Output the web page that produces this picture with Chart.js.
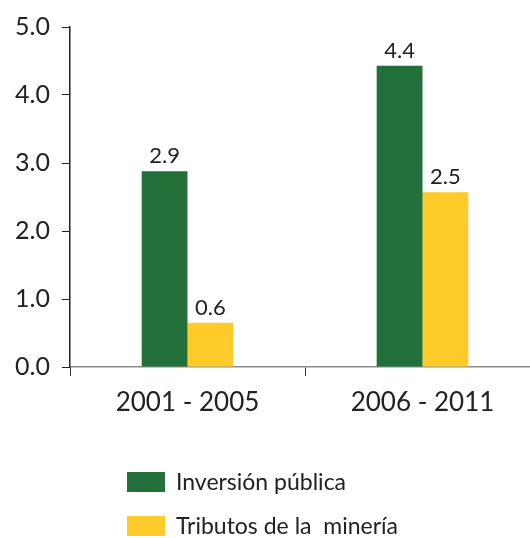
<!DOCTYPE html>
<html>
<head>
<meta charset="utf-8">
<script src="https://cdn.jsdelivr.net/npm/chart.js@4"></script>
<style>
  html, body { margin: 0; padding: 0; background: #fff; overflow: hidden; }
  #wrap { width: 545px; height: 538px; }
</style>
</head>
<body>
<div id="wrap"><canvas id="chart" width="545" height="538"></canvas></div>
<script>
// Chart values (bar heights as drawn, labels as printed)
const periods = ['2001 - 2005', '2006 - 2011'];
const inversionPublica = [2.88, 4.43];
const tributosMineria = [0.65, 2.57];
const inversionLabels = ['2.9', '4.4'];
const tributosLabels = ['0.6', '2.5'];
const seriesNames = ['Inversión pública', 'Tributos de la  minería'];
const seriesColors = ['#23703a', '#ffcb29'];

const FONT = 'Lato, "Open Sans", sans-serif';

// Value labels above the bars
const valueLabels = {
  id: 'valueLabels',
  afterDatasetsDraw(chart) {
    const ctx = chart.ctx;
    const labelSets = [inversionLabels, tributosLabels];
    ctx.save();
    ctx.font = '22px ' + FONT;
    ctx.fillStyle = '#222';
    ctx.textAlign = 'center';
    ctx.textBaseline = 'alphabetic';
    chart.data.datasets.forEach((ds, i) => {
      chart.getDatasetMeta(i).data.forEach((bar, j) => {
        ctx.fillText(labelSets[i][j], bar.x, bar.y - 8);
      });
    });
    ctx.restore();
  }
};

// Vertical legend under the chart
const stackedLegend = {
  id: 'stackedLegend',
  afterDraw(chart) {
    const ctx = chart.ctx;
    ctx.save();
    ctx.font = '23px ' + FONT;
    ctx.textBaseline = 'middle';
    chart.data.datasets.forEach((ds, i) => {
      const cy = 482 + i * 44;
      ctx.fillStyle = ds.backgroundColor;
      ctx.fillRect(127, cy - 10, 38, 20);
      ctx.fillStyle = '#222';
      ctx.fillText(ds.label, 176, cy + 1);
    });
    ctx.restore();
  }
};

new Chart(document.getElementById('chart'), {
  type: 'bar',
  data: {
    labels: periods,
    datasets: [
      { label: seriesNames[0], data: inversionPublica, backgroundColor: seriesColors[0] },
      { label: seriesNames[1], data: tributosMineria, backgroundColor: seriesColors[1] }
    ]
  },
  options: {
    responsive: false,
    animation: false,
    layout: { padding: { top: 25, right: 5, left: 0, bottom: 0 } },
    datasets: {
      bar: { categoryPercentage: 0.39, barPercentage: 1.0, borderWidth: 0 }
    },
    plugins: {
      legend: { display: false },
      tooltip: { enabled: false }
    },
    scales: {
      x: {
        afterFit(scale) { scale.height = 171; },
        grid: { drawOnChartArea: false, tickLength: 9, color: '#333', offset: true },
        border: { color: '#8c8c8c', width: 1.5 },
        ticks: { color: '#222', font: { family: FONT, size: 26 }, padding: 11 }
      },
      y: {
        min: 0,
        max: 5,
        afterFit(scale) { scale.width = 70; },
        grid: { drawOnChartArea: false, tickLength: 8, color: '#222' },
        border: { color: '#222', width: 1.5 },
        ticks: {
          stepSize: 1,
          color: '#222',
          font: { family: FONT, size: 25 },
          padding: 12,
          callback: v => v.toFixed(1)
        }
      }
    }
  },
  plugins: [valueLabels, stackedLegend]
});
</script>
</body>
</html>
